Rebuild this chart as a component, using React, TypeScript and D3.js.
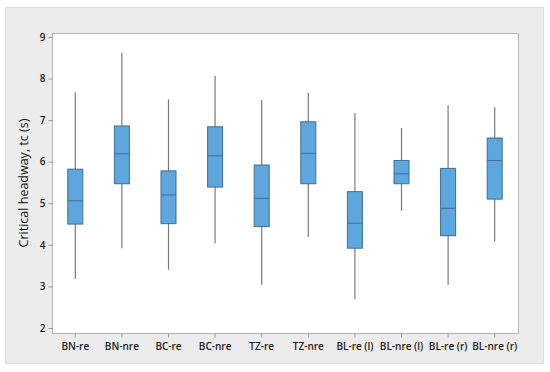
import React, { useEffect, useRef } from 'react'
import * as d3 from 'd3'

const groups = ['BN-re', 'BN-nre', 'BC-re', 'BC-nre', 'TZ-re', 'TZ-nre', 'BL-re (l)', 'BL-nre (l)', 'BL-re (r)', 'BL-nre (r)']
const whiskerLow = [3.18, 3.92, 3.40, 4.04, 3.04, 4.19, 2.69, 4.82, 3.04, 4.08]
const q1 = [4.50, 5.47, 4.51, 5.39, 4.44, 5.47, 3.92, 5.47, 4.22, 5.10]
const medians = [5.06, 6.19, 5.20, 6.14, 5.12, 6.20, 4.52, 5.71, 4.88, 6.03]
const q3 = [5.82, 6.86, 5.78, 6.84, 5.92, 6.96, 5.28, 6.03, 5.84, 6.57]
const whiskerHigh = [7.67, 8.62, 7.50, 8.07, 7.49, 7.65, 7.17, 6.81, 7.36, 7.31]
const yTicks = [2, 3, 4, 5, 6, 7, 8, 9]

const W = 550
const H = 372
const margin = { left: 52, right: 32, top: 33, bottom: 39 }

const App = () => {
    const ref = useRef<SVGSVGElement>(null)

    useEffect(() => {
        const svg = d3.select(ref.current)
        svg.selectAll('*').remove()

        const x = d3.scaleBand()
            .domain(groups)
            .range([margin.left, W - margin.right])
            .padding(0)

        const y = d3.scaleLinear()
            .domain([2, 9])
            .range([328, 37])

        // outer panel
        svg.append('rect')
            .attr('x', 5.5).attr('y', 7.5)
            .attr('width', 538).attr('height', 356)
            .attr('fill', '#ececec')
            .attr('stroke', '#dedede')

        // plot area
        svg.append('rect')
            .attr('x', margin.left + 0.5).attr('y', margin.top + 0.5)
            .attr('width', W - margin.left - margin.right)
            .attr('height', H - margin.top - margin.bottom)
            .attr('fill', '#fff')
            .attr('stroke', '#b4b4b4')

        const yAxis = svg.append('g')
            .attr('transform', `translate(${margin.left + 0.5},0)`)
            .call(d3.axisLeft(y).tickValues(yTicks).tickSize(4).tickPadding(3).tickFormat(d3.format('d')))
        yAxis.select('.domain').remove()
        yAxis.selectAll('line').attr('stroke', '#9a9a9a')
        yAxis.selectAll('text')
            .attr('font-family', 'Open Sans, sans-serif')
            .attr('font-size', 10)
            .attr('font-weight', 600)
            .attr('fill', '#222')

        const xAxis = svg.append('g')
            .attr('transform', `translate(0,${H - margin.bottom + 0.5})`)
            .call(d3.axisBottom(x).tickSize(4).tickPadding(5))
        xAxis.select('.domain').remove()
        xAxis.selectAll('line').attr('stroke', '#9a9a9a')
        xAxis.selectAll('text')
            .attr('font-family', 'Open Sans, sans-serif')
            .attr('font-size', 10)
            .attr('font-weight', 600)
            .attr('fill', '#222')

        svg.append('text')
            .attr('transform', `translate(28,183) rotate(-90)`)
            .attr('text-anchor', 'middle')
            .attr('font-family', 'Open Sans, sans-serif')
            .attr('font-size', 12.5)
            .attr('font-weight', 500)
            .attr('fill', '#111')
            .text('Critical headway, tc (s)')

        const boxW = 15
        const g = svg.append('g')
        const idx = groups.map((_, i) => i)

        g.selectAll('line.whisker')
            .data(idx)
            .join('line')
            .attr('class', 'whisker')
            .attr('x1', i => x(groups[i])! + x.bandwidth() / 2)
            .attr('x2', i => x(groups[i])! + x.bandwidth() / 2)
            .attr('y1', i => y(whiskerLow[i]))
            .attr('y2', i => y(whiskerHigh[i]))
            .attr('stroke', '#7a7a7a')
            .attr('stroke-width', 1.2)

        g.selectAll('rect.box')
            .data(idx)
            .join('rect')
            .attr('class', 'box')
            .attr('x', i => x(groups[i])! + x.bandwidth() / 2 - boxW / 2)
            .attr('width', boxW)
            .attr('y', i => y(q3[i]))
            .attr('height', i => y(q1[i]) - y(q3[i]))
            .attr('fill', '#5ea6de')
            .attr('stroke', '#3f6f91')
            .attr('stroke-width', 1)

        g.selectAll('line.median')
            .data(idx)
            .join('line')
            .attr('class', 'median')
            .attr('x1', i => x(groups[i])! + x.bandwidth() / 2 - boxW / 2)
            .attr('x2', i => x(groups[i])! + x.bandwidth() / 2 + boxW / 2)
            .attr('y1', i => y(medians[i]))
            .attr('y2', i => y(medians[i]))
            .attr('stroke', '#3f6f91')
            .attr('stroke-width', 1)
    }, [])

    return (
        <svg ref={ref} width={W} height={H} style={{ position: 'absolute', left: 0, top: 0, background: '#fff' }} />
    )
}

export default App
